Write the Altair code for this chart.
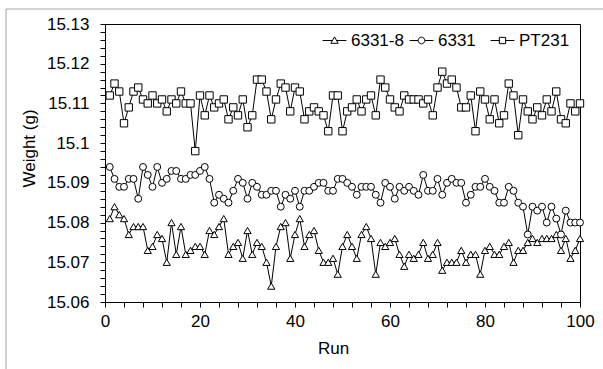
import altair as alt
import pandas as pd

runs = list(range(1, 101))

s_6331_8 = [15.081, 15.084, 15.082, 15.081, 15.077, 15.079, 15.079, 15.079, 15.073, 15.074,
            15.077, 15.076, 15.070, 15.080, 15.072, 15.079, 15.072, 15.073, 15.074, 15.074,
            15.072, 15.078, 15.077, 15.079, 15.081, 15.072, 15.074, 15.075, 15.071, 15.078,
            15.072, 15.075, 15.074, 15.070, 15.064, 15.074, 15.079, 15.080, 15.071, 15.077,
            15.081, 15.074, 15.077, 15.078, 15.073, 15.070, 15.070, 15.071, 15.067, 15.074,
            15.077, 15.074, 15.071, 15.077, 15.079, 15.076, 15.067, 15.075, 15.074, 15.075,
            15.076, 15.072, 15.069, 15.072, 15.071, 15.072, 15.075, 15.071, 15.072, 15.075,
            15.068, 15.070, 15.070, 15.070, 15.073, 15.070, 15.072, 15.072, 15.067, 15.073,
            15.074, 15.072, 15.072, 15.074, 15.075, 15.070, 15.073, 15.073, 15.075, 15.076,
            15.075, 15.076, 15.076, 15.076, 15.077, 15.073, 15.076, 15.071, 15.073, 15.076]

s_6331 = [15.094, 15.091, 15.089, 15.089, 15.091, 15.091, 15.086, 15.094, 15.092, 15.089,
          15.094, 15.090, 15.091, 15.093, 15.093, 15.091, 15.091, 15.092, 15.092, 15.093,
          15.094, 15.091, 15.085, 15.087, 15.086, 15.085, 15.088, 15.091, 15.090, 15.086,
          15.090, 15.089, 15.087, 15.087, 15.088, 15.088, 15.084, 15.087, 15.086, 15.088,
          15.084, 15.088, 15.088, 15.089, 15.090, 15.090, 15.088, 15.088, 15.091, 15.091,
          15.090, 15.089, 15.087, 15.089, 15.089, 15.089, 15.087, 15.085, 15.090, 15.089,
          15.086, 15.089, 15.088, 15.089, 15.088, 15.087, 15.092, 15.088, 15.088, 15.091,
          15.087, 15.090, 15.091, 15.090, 15.090, 15.085, 15.087, 15.089, 15.089, 15.091,
          15.089, 15.088, 15.085, 15.085, 15.089, 15.088, 15.085, 15.084, 15.077, 15.084,
          15.083, 15.084, 15.080, 15.084, 15.081, 15.077, 15.083, 15.080, 15.080, 15.080]

s_pt231 = [15.112, 15.115, 15.113, 15.105, 15.109, 15.113, 15.114, 15.111, 15.110, 15.112,
           15.110, 15.111, 15.108, 15.111, 15.110, 15.113, 15.110, 15.110, 15.098, 15.112,
           15.107, 15.112, 15.109, 15.110, 15.111, 15.106, 15.109, 15.107, 15.111, 15.104,
           15.107, 15.116, 15.116, 15.113, 15.106, 15.111, 15.115, 15.114, 15.108, 15.114,
           15.113, 15.106, 15.108, 15.109, 15.108, 15.107, 15.103, 15.112, 15.112, 15.103,
           15.108, 15.109, 15.111, 15.108, 15.111, 15.112, 15.107, 15.116, 15.114, 15.111,
           15.109, 15.108, 15.112, 15.111, 15.111, 15.111, 15.110, 15.111, 15.107, 15.114,
           15.118, 15.115, 15.116, 15.114, 15.109, 15.109, 15.112, 15.103, 15.113, 15.111,
           15.106, 15.111, 15.105, 15.107, 15.115, 15.112, 15.102, 15.111, 15.108, 15.106,
           15.109, 15.107, 15.111, 15.108, 15.113, 15.106, 15.105, 15.110, 15.108, 15.110]

series_names = ["6331-8", "6331", "PT231"]
series_values = [s_6331_8, s_6331, s_pt231]
series_shapes = ["triangle-up", "circle", "square"]
series_sizes = [52, 48, 54]

y_ticks = [round(15.06 + 0.002 * i, 3) for i in range(36)]
x_ticks = [4 * i for i in range(26)]

FONT = "Liberation Sans"

legend_paths = {
    "6331-8": "M-3.4,0H-0.55M0.55,0H3.4M0,-1.05L1.05,0.8L-1.05,0.8Z",
    "6331": "M-3.4,0H-0.95M0.95,0H3.4M-0.95,0A0.95,0.95 0 1,0 0.95,0A0.95,0.95 0 1,0 -0.95,0Z",
    "PT231": "M-3.4,0H-0.9M0.9,0H3.4M-0.9,-0.9H0.9V0.9H-0.9Z",
}
legend_x = [221, 308, 389]

x_enc = alt.X(
    "run:Q",
    scale=alt.Scale(domain=[0, 100], nice=False, zero=False),
    axis=alt.Axis(
        values=x_ticks,
        labelExpr="datum.value % 20 == 0 ? datum.label : ''",
        labelOverlap=False,
        labelFlush=False,
        title="Run",
        titleX=228,
        titleY=46,
        titleBaseline="middle",
        titleAnchor="start",
        titleAlign="center",
        labelPadding=6,
    ),
)
y_enc = alt.Y(
    "weight:Q",
    scale=alt.Scale(domain=[15.06, 15.13], nice=False, zero=False),
    axis=alt.Axis(
        values=y_ticks,
        labelExpr="abs(datum.value*100 - round(datum.value*100)) < 0.001 ? format(datum.value, '.4~g') : ''",
        labelOverlap=False,
        labelFlush=False,
        title="Weight (g)",
        titleX=-76,
        titleY=124,
        titleAngle=270,
        titleBaseline="middle",
        titleAlign="center",
        titleAnchor="start",
        labelPadding=11,
    ),
)

lines = []
points = []
for name, vals, shp, sz, lx in zip(series_names, series_values, series_shapes, series_sizes, legend_x):
    df = pd.DataFrame({"run": runs, "weight": vals, "series": name})
    base = alt.Chart(df)
    lines.append(base.mark_line(color="black", strokeWidth=1).encode(x=x_enc, y=y_enc))
    points.append(
        base.mark_point(shape=shp, filled=False, fill="white", fillOpacity=1, opacity=1,
                        strokeWidth=1, size=sz)
        .encode(
            x=x_enc,
            y=y_enc,
            color=alt.Color(
                "series:N",
                scale=alt.Scale(range=["black"]),
                legend=alt.Legend(
                    title=None,
                    orient="none",
                    legendX=lx,
                    legendY=8,
                    padding=0,
                    symbolType=legend_paths[name],
                    symbolSize=49,
                    symbolFillColor="white",
                    symbolStrokeColor="black",
                    symbolStrokeWidth=1,
                    symbolOpacity=1,
                    labelOffset=8,
                    labelFont=FONT,
                    labelFontSize=17,
                    labelColor="black",
                ),
            ),
        )
    )

border = alt.Chart(alt.Data(values=[{}])).mark_rule(color="#a6a6a6", strokeWidth=1).encode(
    x=alt.value(-99), y=alt.value(-15), y2=alt.value(400)
)
border_top = alt.Chart(alt.Data(values=[{}])).mark_rule(color="#a6a6a6", strokeWidth=1).encode(
    x=alt.value(-99), x2=alt.value(600), y=alt.value(-15)
)

chart = (
    alt.layer(border, border_top, *lines, *points)
    .resolve_scale(color="independent")
    .properties(
        width=475,
        height=278,
        padding={"left": 105, "top": 24, "right": 23, "bottom": 67},
        autosize=alt.AutoSizeParams(type="none"),
        background="white",
    )
    .configure_view(stroke="black", strokeWidth=1)
    .configure_axis(
        domainColor="black",
        domainWidth=1,
        tickColor="black",
        tickWidth=1,
        tickSize=5,
        grid=False,
        labelFont=FONT,
        labelFontSize=17,
        labelColor="black",
        titleFont=FONT,
        titleFontSize=17,
        titleFontWeight="normal",
        titleColor="black",
    )
)

chart.save("out.html", embed_options={"renderer": "svg", "actions": False})
